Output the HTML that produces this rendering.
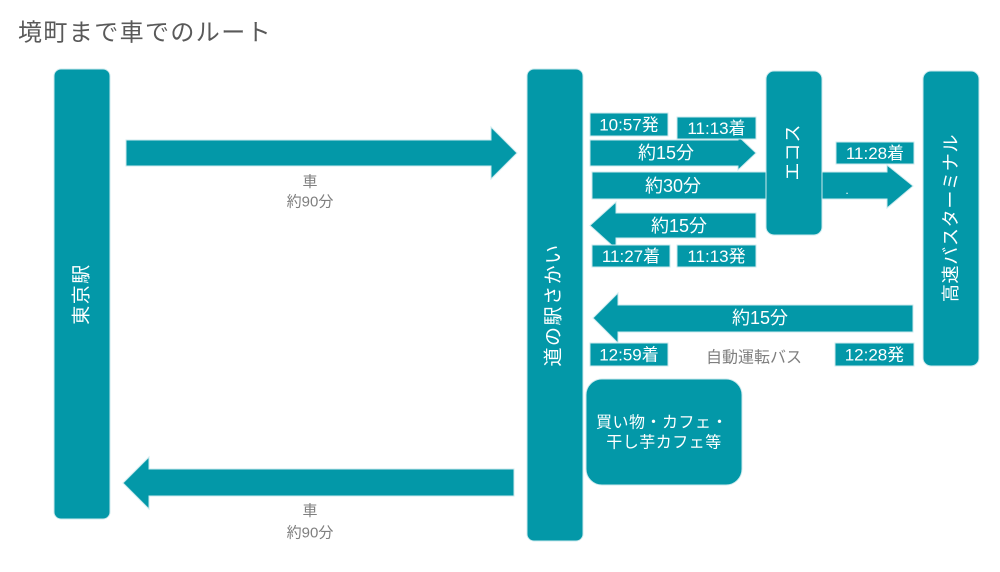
<!DOCTYPE html>
<html lang="ja">
<head>
<meta charset="utf-8">
<style>
  html, body { margin: 0; padding: 0; background: #ffffff; }
  body { width: 1000px; height: 572px; overflow: hidden; }
  svg { display: block; }
  text { font-family: "Liberation Sans", "Noto Sans CJK JP", sans-serif; }
</style>
</head>
<body>
<svg width="1000" height="572" viewBox="0 0 1000 572" xmlns="http://www.w3.org/2000/svg">
  <rect x="0" y="0" width="1000" height="572" fill="#ffffff"/>

  <!-- Title -->
  <text x="18" y="33" font-size="24" fill="#595959" dominant-baseline="central" letter-spacing="1.4">境町まで車でのルート</text>

  <g fill="#0398a8" stroke="#cdeaee" stroke-width="1">
    <!-- Arrows (drawn first, under boxes) -->
    <polygon points="126,140 491,140 491,127 517,153 491,179 491,166 126,166"/>
    <polygon points="514,469 149,469 149,457 123,483 149,509 149,496 514,496"/>
    <polygon points="590,140 738,140 738,136 756,153 738,170 738,166 590,166"/>
    <polygon points="592,172 887,172 887,165 913,186 887,208 887,199 592,199"/>
    <polygon points="756,213 616,213 616,202 590,225.5 616,249 616,238 756,238"/>
    <polygon points="913,305 618,305 618,293 593,318 618,343 618,332 913,332"/>

    <!-- Main bars -->
    <rect x="54" y="69" width="56" height="450" rx="7"/>
    <rect x="527" y="69" width="56" height="472" rx="7"/>
    <rect x="766" y="71" width="56" height="164" rx="8"/>
    <rect x="923" y="71" width="56" height="295" rx="8"/>
    <rect x="586" y="379" width="156" height="106" rx="16"/>

    <!-- Time label boxes -->
    <rect x="590" y="113" width="78" height="23"/>
    <rect x="677" y="117" width="79" height="22"/>
    <rect x="836" y="142" width="78" height="22"/>
    <rect x="592" y="245" width="78" height="22"/>
    <rect x="677" y="245" width="79" height="22"/>
    <rect x="590" y="343" width="78" height="23"/>
    <rect x="835" y="343" width="79" height="23"/>
  </g>

  <!-- Time labels -->
  <g fill="#ffffff" font-size="17" text-anchor="middle" dominant-baseline="central">
    <text x="629" y="125">10:57発</text>
    <text x="716.5" y="128.5">11:13着</text>
    <text x="875" y="153.5">11:28着</text>
    <text x="631" y="256.5">11:27着</text>
    <text x="716.5" y="256.5">11:13発</text>
    <text x="629" y="355">12:59着</text>
    <text x="874.5" y="355">12:28発</text>
  </g>

  <!-- Arrow labels -->
  <g fill="#ffffff" font-size="18" text-anchor="middle" dominant-baseline="central">
    <text x="666" y="153">約15分</text>
    <text x="673" y="186">約30分</text>
    <text x="679" y="226">約15分</text>
    <text x="760" y="318">約15分</text>
    <text x="847" y="190" font-size="12">.</text>
  </g>

  <!-- Vertical labels -->
  <g fill="#ffffff" text-anchor="middle" dominant-baseline="central">
    <text x="0" y="0" font-size="19" letter-spacing="1.5" transform="translate(82,294) rotate(-90)">東京駅</text>
    <text x="0" y="0" font-size="19" letter-spacing="1.5" transform="translate(554,305) rotate(-90)">道の駅さかい</text>
    <text x="0" y="0" font-size="18" letter-spacing="1" transform="translate(793,152) rotate(-90)">エコス</text>
    <text x="0" y="0" font-size="18" letter-spacing="0.7" transform="translate(951,218) rotate(-90)">高速バスターミナル</text>
  </g>

  <!-- Shop box text -->
  <g fill="#ffffff" font-size="16" text-anchor="middle" dominant-baseline="central">
    <text x="662" y="423" letter-spacing="0.5">買い物・カフェ・</text>
    <text x="664" y="443" letter-spacing="0.5">干し芋カフェ等</text>
  </g>

  <!-- Gray captions -->
  <g fill="#7f7f7f" font-size="15" text-anchor="middle" dominant-baseline="central">
    <text x="310" y="182">車</text>
    <text x="310" y="202">約90分</text>
    <text x="310" y="511">車</text>
    <text x="310" y="533">約90分</text>
    <text x="754" y="358" font-size="16">自動運転バス</text>
  </g>
</svg>
</body>
</html>
